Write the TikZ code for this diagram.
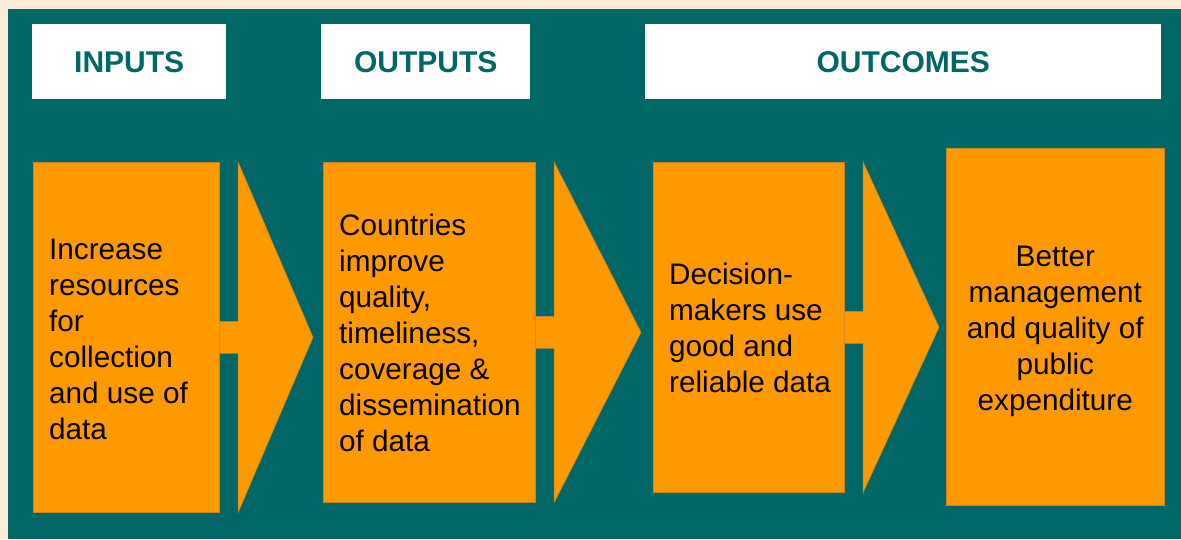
\documentclass[tikz,border=0pt]{standalone}
\usepackage{fontspec}
\setmainfont{Liberation Sans}
\usepackage{xcolor}
\usepackage{tikz}
\usetikzlibrary{calc}

\definecolor{bgcream}{RGB}{251,238,216}
\definecolor{tealbg}{RGB}{0,102,102}
\definecolor{boxorange}{RGB}{255,153,0}
\definecolor{boxedge}{RGB}{196,132,40}

\tikzset{
  header/.style={fill=white, text=tealbg, font=\fontsize{30}{36}\selectfont\bfseries,
    minimum height=75pt, inner sep=0pt, anchor=north west},
  stage/.style={fill=boxorange, draw=boxedge, line width=0.6pt, inner sep=0pt, anchor=north west},
  stagetext/.style={font=\fontsize{29.7}{36}\selectfont, inner sep=0pt, align=left, anchor=west},
  flow/.style={fill=boxorange, draw=boxedge, line width=0.6pt}
}

% arrow from one stage to the next: #3 = gap before the next stage
\newcommand{\flowarrow}[3]{%
  \filldraw[flow] let \p1=(#1.north east), \p2=(#1.south east), \p3=(#1.east), \p4=(#2.west) in
    (\x3,{\y3+16pt}) -- ({\x3+18.5pt},{\y3+16pt}) -- ({\x3+18.5pt},\y1)
    -- ({\x4-#3},\y3) -- ({\x3+18.5pt},\y2) -- ({\x3+18.5pt},{\y3-16pt}) -- (\x3,{\y3-16pt});
}

\begin{document}
\begin{tikzpicture}[x=1pt,y=-1pt]
    \useasboundingbox (0,0) rectangle (1181,539);
    \fill[bgcream] (0,0) rectangle (1181,539);
    \fill[tealbg] (8,9) rectangle (1181,539);

    % headings
    \node[header, minimum width=194pt] (h1) at (32,24) {INPUTS};
    \node[header, minimum width=209pt] (h2) at (321,24) {OUTPUTS};
    \node[header, minimum width=516pt] (h3) at (645,24) {OUTCOMES};

    % stages
    \node[stage, minimum width=186pt, minimum height=350pt] (b1) at (33,162) {};
    \node[stage, minimum width=212pt, minimum height=340pt] (b2) at (323,162) {};
    \node[stage, minimum width=191pt, minimum height=330pt] (b3) at (653,162) {};
    \node[stage, minimum width=218pt, minimum height=357pt] (b4) at (946,148) {};

    \node[stagetext] (t1) at ([xshift=16pt,yshift=-2.5pt]b1.west)
        {Increase\\resources\\for\\collection\\and use of\\data};
    \node[stagetext] (t2) at ([xshift=16pt,yshift=-0.5pt]b2.west)
        {Countries\\improve\\quality,\\timeliness,\\coverage \&\\dissemination\\of data};
    \node[stagetext] (t3) at ([xshift=16pt,yshift=-0.5pt]b3.west)
        {Decision-\\makers use\\good and\\reliable data};
    \node[stagetext, align=center, anchor=center] (t4) at ([yshift=-5pt]b4.center)
        {Better\\management\\and quality of\\public\\expenditure};

    % arrows
    \flowarrow{b1}{b2}{10pt}
    \flowarrow{b2}{b3}{12pt}
    \flowarrow{b3}{b4}{7pt}
\end{tikzpicture}
\end{document}
